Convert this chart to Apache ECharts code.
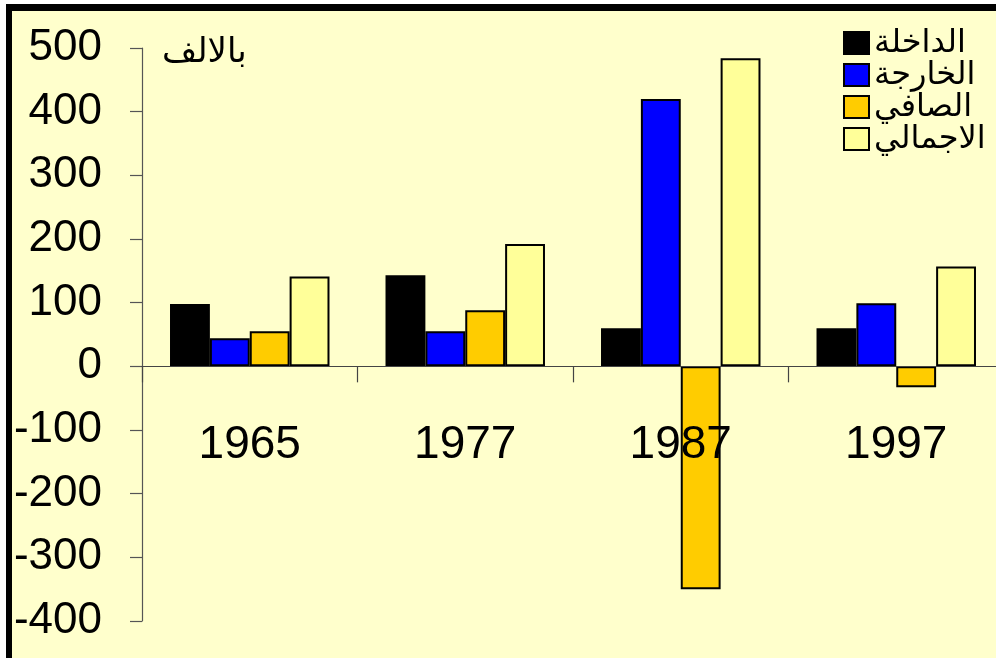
<!DOCTYPE html>
<html>
<head>
<meta charset="utf-8">
<script src="https://cdn.jsdelivr.net/npm/echarts@6/dist/echarts.min.js"></script>
<style>
html,body{margin:0;padding:0;background:#fff;}
#c{width:996px;height:658px;}
</style>
</head>
<body>
<div id="c"></div>
<script>
var categories = ['1965', '1977', '1987', '1997'];
var seriesNames = ['الداخلة', 'الخارجة', 'الصافي', 'الاجمالي'];
var domestic = [98, 143, 60, 60];
var external = [44, 55, 420, 99];
var net = [55, 88, -350, -33];
var total = [141, 192, 484, 157];
var unitLabel = 'بالالف';

var colors = ['#000000', '#0000FF', '#FFCC00', '#FFFF99'];
var FONT = 'Liberation Sans, Arial, DejaVu Sans, sans-serif';
var dataSets = [domestic, external, net, total];

var chart = echarts.init(document.getElementById('c'));
chart.setOption({
  backgroundColor: '#FFFFCC',
  animation: false,
  textStyle: { fontFamily: FONT },
  graphic: [
    { type: 'rect', shape: { x: 0, y: 0, width: 996, height: 4 }, style: { fill: '#fff' } },
    { type: 'rect', shape: { x: 0, y: 0, width: 6, height: 658 }, style: { fill: '#fff' } },
    { type: 'rect', shape: { x: 6, y: 4, width: 990, height: 7 }, style: { fill: '#000' } },
    { type: 'rect', shape: { x: 6, y: 4, width: 6, height: 654 }, style: { fill: '#000' } },
    { type: 'text', left: 162, top: 36, style: { text: unitLabel, fontSize: 34, fill: '#000', fontFamily: FONT } }
  ],
  legend: {
    orient: 'vertical',
    left: 838,
    top: 22,
    icon: 'rect',
    itemWidth: 25,
    itemHeight: 22,
    itemGap: 0,
    itemStyle: { borderColor: '#000', borderWidth: 2 },
    textStyle: { fontSize: 32, color: '#000', fontFamily: FONT },
    data: seriesNames
  },
  grid: { left: 142, right: -8, top: 48, bottom: 37, outerBoundsMode: 'none', containLabel: false },
  xAxis: {
    type: 'category',
    data: categories,
    z: 10,
    axisLine: { onZero: true, lineStyle: { color: '#444', width: 1.2 } },
    axisTick: { show: true, length: 16, lineStyle: { color: '#444', width: 1.2 } },
    axisLabel: { fontSize: 46, color: '#000', margin: -199, fontFamily: FONT },
    splitLine: { show: false }
  },
  yAxis: {
    type: 'value',
    min: -400,
    max: 500,
    interval: 100,
    axisLine: { show: true, lineStyle: { color: '#555', width: 1.2 } },
    axisTick: { show: true, length: 12, lineStyle: { color: '#555', width: 1.2 } },
    axisLabel: { fontSize: 44, color: '#000', margin: 40, fontFamily: FONT },
    splitLine: { show: false }
  },
  series: seriesNames.map(function (n, i) {
    return {
      name: n,
      type: 'bar',
      data: dataSets[i],
      barGap: '0%',
      barCategoryGap: '26%',
      itemStyle: { color: colors[i], borderColor: '#000', borderWidth: 2 }
    };
  })
});
</script>
</body>
</html>
